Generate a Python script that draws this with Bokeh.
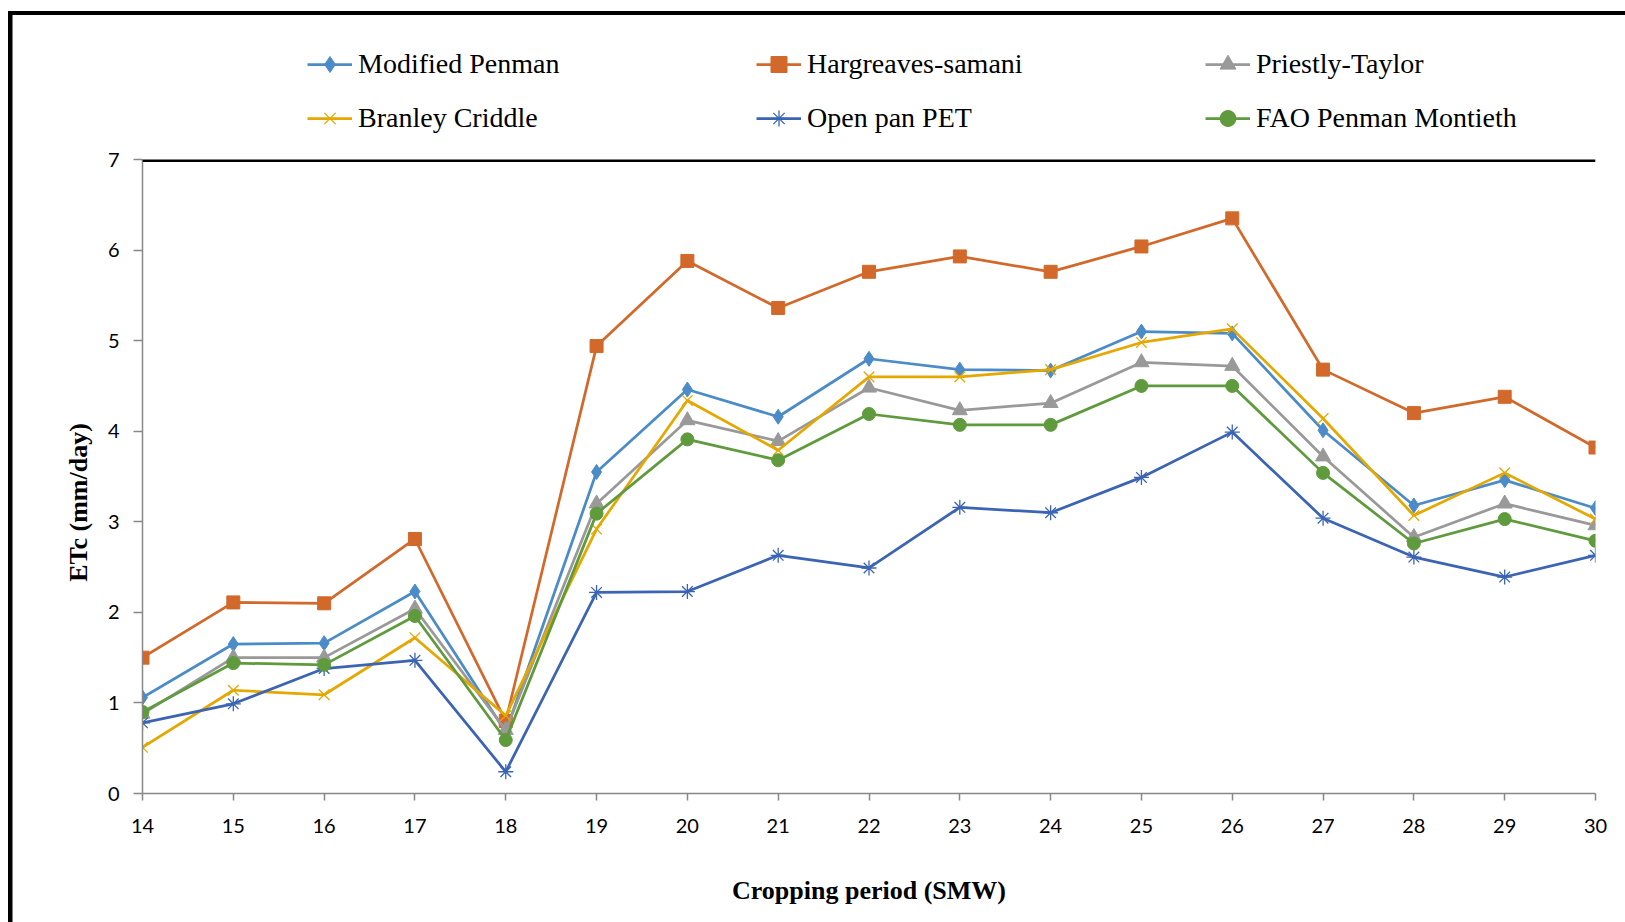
from bokeh.plotting import figure
from bokeh.models import Legend, LegendItem, FixedTicker, Span, Range1d
from bokeh.layouts import column
from bokeh.embed import file_html
from bokeh.resources import INLINE

weeks = [14, 15, 16, 17, 18, 19, 20, 21, 22, 23, 24, 25, 26, 27, 28, 29, 30]
modified_penman = [1.06, 1.65, 1.66, 2.23, 0.68, 3.55, 4.46, 4.16, 4.80, 4.68, 4.67, 5.10, 5.08, 4.01, 3.18, 3.46, 3.15]
hargreaves_samani = [1.50, 2.11, 2.10, 2.81, 0.80, 4.94, 5.88, 5.36, 5.76, 5.93, 5.76, 6.04, 6.35, 4.68, 4.20, 4.38, 3.82]
priestly_taylor = [0.88, 1.50, 1.50, 2.04, 0.70, 3.20, 4.12, 3.89, 4.48, 4.23, 4.31, 4.76, 4.72, 3.72, 2.83, 3.20, 2.96]
branley_criddle = [0.51, 1.14, 1.09, 1.72, 0.86, 2.92, 4.34, 3.79, 4.60, 4.60, 4.68, 4.98, 5.13, 4.14, 3.07, 3.54, 3.03]
open_pan_pet = [0.78, 0.99, 1.38, 1.47, 0.24, 2.22, 2.23, 2.63, 2.49, 3.16, 3.10, 3.49, 3.99, 3.04, 2.61, 2.39, 2.63]
fao_penman_monteith = [0.90, 1.44, 1.42, 1.96, 0.59, 3.09, 3.91, 3.68, 4.19, 4.07, 4.07, 4.50, 4.50, 3.54, 2.76, 3.03, 2.79]

series_names = ["Modified Penman", "Hargreaves-samani", "Priestly-Taylor",
                "Branley Criddle", "Open pan PET", "FAO Penman Montieth"]
series_values = [modified_penman, hargreaves_samani, priestly_taylor,
                 branley_criddle, open_pan_pet, fao_penman_monteith]
series_colors = ["#4B8BC8", "#D2692A", "#999999", "#E5A800", "#3B64B4", "#5F9A3D"]
series_markers = ["diamond", "square", "triangle", "x", "asterisk", "circle"]
series_sizes = [15, 13, 15, 15, 15, 13]
legend_sizes = [11, 11, 12, 12, 12, 11]

y_ticks = [0, 1, 2, 3, 4, 5, 6, 7]


def add_series(fig, xs, ys, col, mk, sz):
    r_line = fig.line(xs, ys, line_color=col, line_width=2.75)
    if mk in ("x", "asterisk"):
        r_pt = fig.scatter(xs, ys, marker=mk, size=sz, line_color=col, line_width=1.3, fill_color=None)
    else:
        r_pt = fig.scatter(xs, ys, marker=mk, size=sz, line_color=col, fill_color=col)
    return r_line, r_pt


# ---------------- legend strip (top) ----------------
# its plot frame is aligned with the main chart's frame by the column layout
LEG_H = 147
leg = figure(width=1625, height=LEG_H, x_range=Range1d(0, 1), y_range=Range1d(0, 1),
             output_backend="svg", toolbar_location=None,
             x_axis_location=None, y_axis_location=None,
             min_border_left=142, min_border_right=30,
             min_border_top=0, min_border_bottom=0)
leg.xgrid.visible = False
leg.ygrid.visible = False
leg.outline_line_color = None
leg.background_fill_color = None
leg.border_fill_color = None

items = []
for name, vals, col, mk, sz in zip(series_names, series_values, series_colors, series_markers, legend_sizes):
    # same series; this strip's ranges keep them out of view, only the legend shows
    r_line, r_pt = add_series(leg, weeks, vals, col, mk, sz)
    items.append(LegendItem(label=name, renderers=[r_line, r_pt]))

legend = Legend(items=items, orientation="horizontal", ncols=3, location=(165, LEG_H - 138),
                padding=0, margin=0, border_line_color=None, background_fill_alpha=0,
                glyph_width=45, glyph_height=40, label_standoff=6, spacing=14,
                label_width=384,
                label_text_font="Liberation Serif", label_text_font_size="28px",
                label_text_color="black")
leg.add_layout(legend, "center")

# ---------------- main chart ----------------
p = figure(width=1625, height=922 - LEG_H, x_range=Range1d(14, 30), y_range=Range1d(0, 7),
           output_backend="svg", toolbar_location=None,
           min_border_left=142, min_border_right=30, min_border_top=12, min_border_bottom=129)
p.background_fill_color = "white"
p.border_fill_color = None
p.outline_line_color = None
p.xgrid.visible = False
p.ygrid.visible = False

for vals, col, mk, sz in zip(series_values, series_colors, series_markers, series_sizes):
    add_series(p, weeks, vals, col, mk, sz)

p.add_layout(Span(location=7, dimension="width", line_color="black", line_width=5))

p.xaxis.ticker = FixedTicker(ticks=weeks)
p.yaxis.ticker = FixedTicker(ticks=y_ticks)
for ax in (p.xaxis[0], p.yaxis[0]):
    ax.axis_line_color = "#888888"
    ax.axis_line_width = 1.5
    ax.major_tick_line_color = "#888888"
    ax.major_tick_line_width = 1.5
    ax.major_tick_in = 0
    ax.minor_tick_line_color = None
    ax.major_label_text_font = "Lato"
    ax.major_label_text_font_size = "20px"
    ax.major_label_text_color = "black"
    ax.axis_label_text_font = "Liberation Serif"
    ax.axis_label_text_font_style = "bold"
    ax.axis_label_text_font_size = "26px"
    ax.axis_label_text_color = "black"

p.xaxis.major_tick_out = 7
p.xaxis.major_label_standoff = 18
p.xaxis.axis_label = "Cropping period (SMW)"
p.xaxis.axis_label_standoff = 40

p.yaxis.major_tick_out = 9
p.yaxis.major_label_standoff = 14
p.yaxis.axis_label = "ETc (mm/day)" + "\u00a0" * 8
p.yaxis.axis_label_standoff = 12

layout = column(leg, p, spacing=0)
# outer black frame (left and top edges only, as in the reference)
layout.styles = {"box-shadow": "inset 8px 11px 0 0 white, inset 12.5px 15px 0 0 black",
                 "background-color": "white"}

open("out.html", "w").write(file_html(layout, INLINE))
